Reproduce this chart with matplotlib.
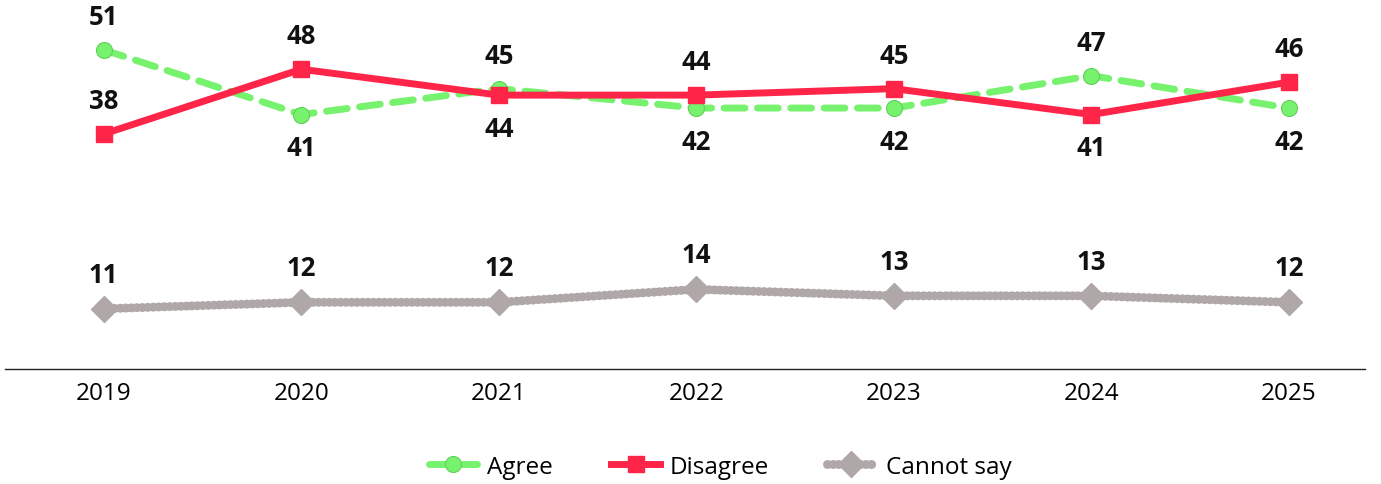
import numpy as np
import matplotlib
matplotlib.use("Agg")
import matplotlib.pyplot as plt

plt.rcParams['font.family'] = ['Open Sans', 'DejaVu Sans']

years = ["2019", "2020", "2021", "2022", "2023", "2024", "2025"]
agree = [51, 41, 45, 42, 42, 47, 42]
disagree = [38, 48, 44, 44, 45, 41, 46]
cannot_say = [11, 12, 12, 14, 13, 13, 12]

# label side for each point: 1 = above, -1 = below
agree_side = [1, -1, 1, -1, -1, 1, -1]
disagree_side = [1, 1, -1, 1, 1, -1, 1]

green = "#77F26E"
red = "#FF2549"
grey = "#B0A8A8"

x = np.arange(len(years))

fig = plt.figure(figsize=(13.81, 4.85), dpi=100)
ax = fig.add_axes([5/1381, 1 - 370/485, 1360/1381, 360/485])

ax.plot(x, cannot_say, color=grey, lw=6.5, ls=(0, (0.01, 0.6)), dash_capstyle='round',
        marker='D', ms=13.5, label="Cannot say", zorder=2)
ax.plot(x, agree, color=green, lw=5, ls=(0, (3, 1.8)), dash_capstyle='round',
        marker='o', ms=11.5, mec="#5fd058", mew=0.8, label="Agree", zorder=3)
ax.plot(x, disagree, color=red, lw=5, marker='s', ms=12, label="Disagree", zorder=4)

lab_kw = dict(textcoords='offset points', ha='center', va='center',
              fontsize=18.5, fontweight='bold', color='#111111')
for i in range(len(years)):
    ax.annotate(str(agree[i]), (x[i], agree[i]), xytext=(0, 24 * agree_side[i]), **lab_kw)
    ax.annotate(str(disagree[i]), (x[i], disagree[i]), xytext=(0, 24 * disagree_side[i]), **lab_kw)
    ax.annotate(str(cannot_say[i]), (x[i], cannot_say[i]), xytext=(0, 25), **lab_kw)

ax.set_xlim(-0.5, 6.385)
ax.set_ylim(1.7, 57.3)
ax.set_xticks(x)
ax.set_xticklabels(years, fontsize=17.5)
ax.tick_params(axis='x', length=0, pad=9)
ax.set_yticks([])
for s in ['top', 'right', 'left']:
    ax.spines[s].set_visible(False)
ax.spines['bottom'].set_color('#222222')
ax.spines['bottom'].set_linewidth(1)

handles, labels = ax.get_legend_handles_labels()
order = [1, 2, 0]
fig.legend([handles[k] for k in order], [labels[k] for k in order],
           loc='center', bbox_to_anchor=(720/1381, 1 - 468/485), ncol=3,
           frameon=False, fontsize=17.5, handlelength=2.0, columnspacing=2.4,
           handletextpad=0.4)

fig.savefig("out.png", dpi=100)
